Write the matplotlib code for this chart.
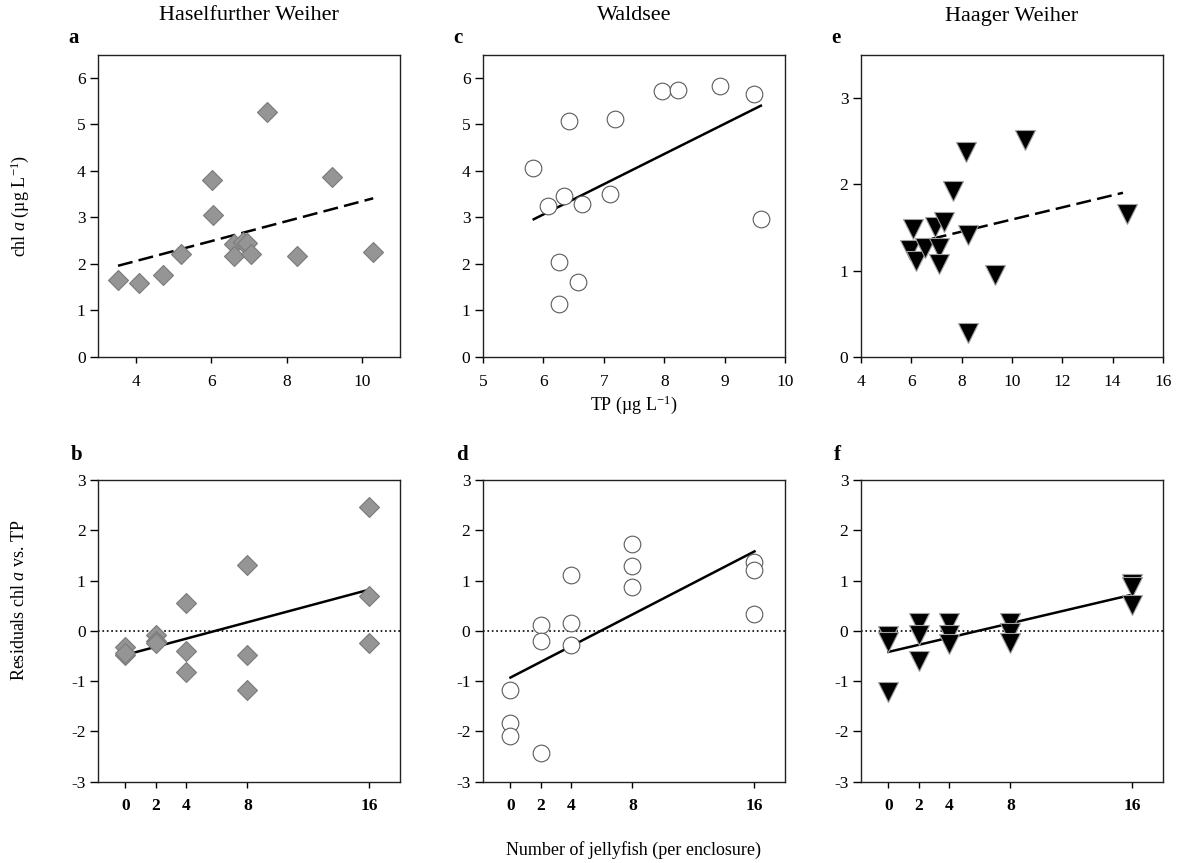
import numpy as np
import matplotlib.pyplot as plt

plt.rcParams['font.family'] = ['Liberation Serif', 'DejaVu Serif']
plt.rcParams['mathtext.fontset'] = 'custom'
plt.rcParams['mathtext.rm'] = 'Liberation Serif'
plt.rcParams['mathtext.it'] = 'Liberation Serif:italic'
plt.rcParams['axes.unicode_minus'] = False

W, H = 1182, 863

# lakes (column titles)
lakes = ['Haselfurther Weiher', 'Waldsee', 'Haager Weiher']

# top row: TP vs chl a
tp_a = [3.53, 4.08, 4.71, 5.21, 6.02, 6.05, 6.60, 6.60, 6.85, 6.95, 7.05, 7.49, 8.26, 9.19, 10.29]
chl_a = [1.65, 1.59, 1.77, 2.22, 3.81, 3.06, 2.42, 2.18, 2.47, 2.45, 2.22, 5.27, 2.16, 3.87, 2.25]
fit_a_x = [3.53, 10.29]
fit_a_y = [1.96, 3.41]

tp_c = [5.83, 6.08, 6.34, 6.64, 6.43, 6.26, 6.26, 6.58, 7.10, 7.19, 7.96, 8.23, 8.92, 9.48, 9.60]
chl_c = [4.06, 3.25, 3.46, 3.28, 5.07, 2.05, 1.14, 1.61, 3.51, 5.11, 5.72, 5.73, 5.83, 5.65, 2.97]
fit_c_x = [5.84, 9.60]
fit_c_y = [2.96, 5.40]

tp_e = [6.06, 5.96, 6.19, 6.55, 6.96, 7.09, 7.09, 7.28, 7.65, 8.18, 8.27, 8.24, 9.31, 10.50, 14.58]
chl_e = [1.48, 1.24, 1.11, 1.26, 1.50, 1.26, 1.08, 1.56, 1.92, 2.37, 1.41, 0.28, 0.95, 2.51, 1.65]
fit_e_x = [5.99, 14.41]
fit_e_y = [1.31, 1.90]

# bottom row: jellyfish vs residuals
jelly = [0, 0, 0, 2, 2, 2, 4, 4, 4, 8, 8, 8, 16, 16, 16]
res_b = [-0.32, -0.48, -0.45, -0.08, -0.20, -0.25, 0.56, -0.40, -0.81, 1.30, -0.49, -1.17, 2.46, 0.69, -0.24]
fit_b_y = [-0.48, 0.82]
res_d = [-1.17, -1.84, -2.10, 0.11, -0.20, -2.43, 1.11, 0.15, -0.28, 1.72, 1.28, 0.87, 1.37, 1.21, 0.33]
fit_d_y = [-0.93, 1.58]
res_f = [-0.10, -0.22, -1.22, 0.15, -0.09, -0.60, 0.16, -0.09, -0.27, 0.15, -0.05, -0.24, 0.93, 0.87, 0.51]
fit_f_y = [-0.42, 0.72]
fit_x = [0, 16]

fig = plt.figure(figsize=(W / 100, H / 100), dpi=100)


def box(l, t, r, b):
    return [l / W, 1 - b / H, (r - l) / W, (b - t) / H]


cols = [(98, 400), (483, 785), (861, 1163)]
top_row = (54.5, 357)
bot_row = (480, 781.6)

styles = [
    dict(marker='D', ms=10.2, mfc='#959595', mec='#7a7a7a', mew=0.8),
    dict(marker='o', ms=12, mfc='white', mec='#5a5a5a', mew=0.8),
    dict(marker='v', ms=14.5, mfc='black', mec='#a0a0a0', mew=0.8),
]


def style_ax(ax, bold_x=False):
    ax.tick_params(axis='y', direction='out', length=6, width=1, labelsize=12.5, pad=3)
    ax.tick_params(axis='x', direction='out', length=4, width=1, labelsize=12.5, pad=8)
    for s in ax.spines.values():
        s.set_linewidth(1.0)
        s.set_color('#222222')
    if bold_x:
        for lab in ax.get_xticklabels():
            lab.set_fontweight('bold')


top_data = [(tp_a, chl_a, fit_a_x, fit_a_y, '--'),
            (tp_c, chl_c, fit_c_x, fit_c_y, '-'),
            (tp_e, chl_e, fit_e_x, fit_e_y, '--')]
top_xlim = [(3, 11), (5, 10), (4, 16)]
top_ylim = [(0, 6.5), (0, 6.5), (0, 3.5)]
top_xticks = [[4, 6, 8, 10], [5, 6, 7, 8, 9, 10], [4, 6, 8, 10, 12, 14, 16]]
top_yticks = [range(0, 7), range(0, 7), range(0, 4)]

bot_data = [(res_b, fit_b_y), (res_d, fit_d_y), (res_f, fit_f_y)]

letters_top = ['a', 'c', 'e']
letters_bot = ['b', 'd', 'f']

for i in range(3):
    l, r = cols[i]
    # top panel
    ax = fig.add_axes(box(l, top_row[0], r, top_row[1]))
    x, y, fx, fy, ls = top_data[i]
    ax.plot(fx, fy, color='black', lw=1.8, ls=ls, dashes=(6, 2.5) if ls == '--' else (None, None), zorder=1)
    ax.plot(x, y, ls='none', zorder=2, **styles[i])
    ax.set_xlim(*top_xlim[i])
    ax.set_ylim(*top_ylim[i])
    ax.set_xticks(top_xticks[i])
    ax.set_yticks(list(top_yticks[i]))
    style_ax(ax)
    fig.text((l + r) / 2 / W, 1 - 16 / H, lakes[i], ha='center', va='center', fontsize=16)
    fig.text((l - 30) / W, 1 - 38 / H, letters_top[i], ha='left', va='center', fontsize=15, fontweight='bold')

    # bottom panel
    ax2 = fig.add_axes(box(l, bot_row[0], r, bot_row[1]))
    res, fyb = bot_data[i]
    ax2.axhline(0, color='black', lw=1.2, ls=':', zorder=0)
    ax2.plot(fit_x, fyb, color='black', lw=1.8, zorder=1)
    ax2.plot(jelly, res, ls='none', zorder=2, **styles[i])
    ax2.set_xlim(-1.8, 18)
    ax2.set_ylim(-3, 3)
    ax2.set_xticks([0, 2, 4, 8, 16])
    ax2.set_yticks(range(-3, 4))
    style_ax(ax2, bold_x=True)
    fig.text((l - 27) / W, 1 - 455 / H, letters_bot[i], ha='left', va='center', fontsize=15, fontweight='bold')

fig.text(634 / W, 1 - 405 / H, 'TP (µg L$^{-1}$)', ha='center', va='center', fontsize=13)
fig.text(634 / W, 1 - 850 / H, 'Number of jellyfish (per enclosure)', ha='center', va='center', fontsize=13)
fig.text(20 / W, 1 - 206 / H, 'chl $\\it{a}$ (µg L$^{-1}$)', ha='center', va='center', rotation=90, fontsize=13)
fig.text(20 / W, 1 - 600 / H, 'Residuals chl $\\it{a}$ vs. TP', ha='center', va='center', rotation=90, fontsize=13)

fig.savefig('out.png', dpi=100)
